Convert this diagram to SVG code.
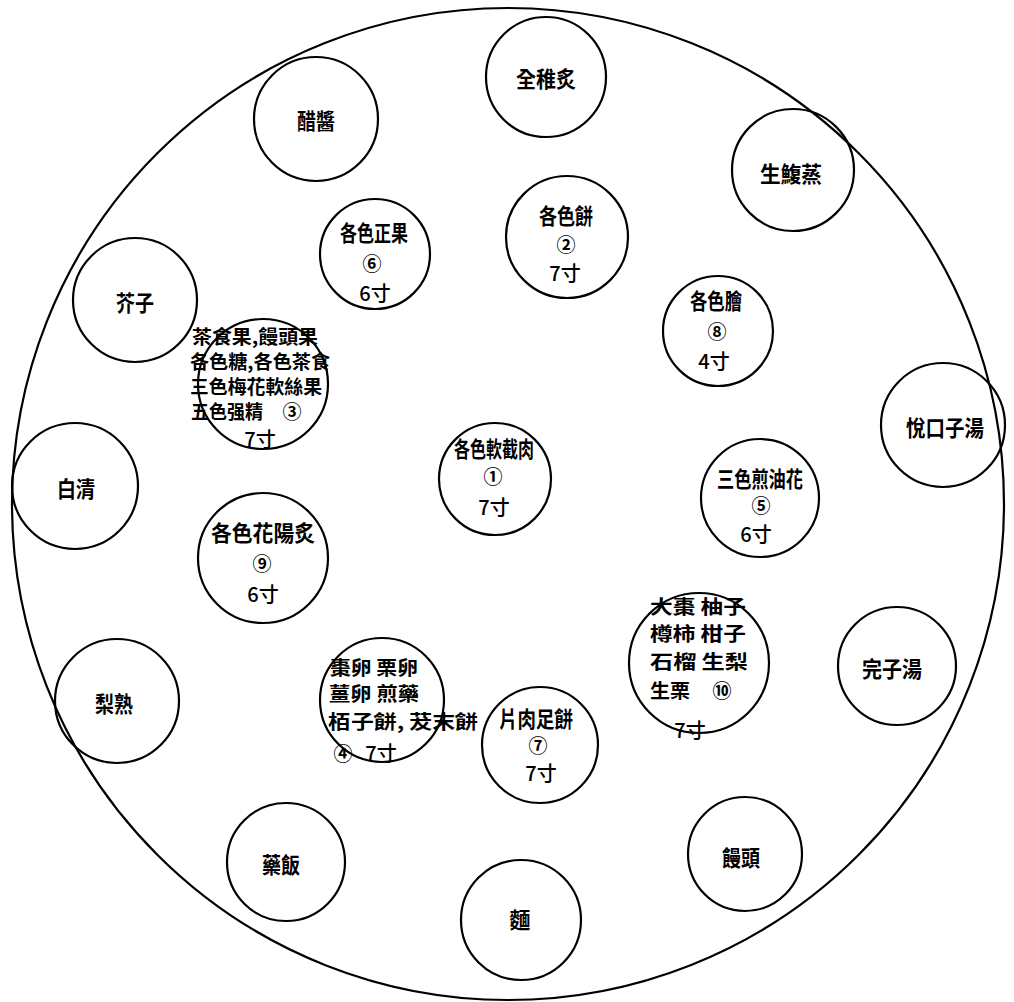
<svg xmlns="http://www.w3.org/2000/svg" width="1014" height="1002" viewBox="0 0 1014 1002">
<style>
.c{fill:none;stroke:#000;stroke-width:2.2}
text{font-family:"Noto Sans CJK TC","Noto Sans CJK KR","Noto Sans CJK SC",sans-serif;fill:#000;text-anchor:middle;dominant-baseline:central}
.n{font-size:22px;font-weight:700}
.t{font-size:19px;font-weight:700}
.s{font-size:20px;font-weight:500}
.m{font-size:19px;font-weight:700}
.l{text-anchor:start}
</style>
<rect width="1014" height="1002" fill="#fff"/>
<g id="table"><circle class="c" cx="508" cy="504" r="496"/></g>
<g id="connectors"></g>
<g id="n-quanzhizhi"><circle class="c" cx="546" cy="77" r="60"/><text class="n" x="546" y="77" textLength="60" lengthAdjust="spacingAndGlyphs">全稚炙</text></g>
<g id="n-cujiang"><circle class="c" cx="316" cy="119" r="62"/><text class="n" x="316" y="119" textLength="38" lengthAdjust="spacingAndGlyphs">醋醬</text></g>
<g id="n-shengfuzheng"><circle class="c" cx="793" cy="170" r="61"/><text class="n" x="791" y="172" textLength="62" lengthAdjust="spacingAndGlyphs">生鰒蒸</text></g>
<g id="n-jiezi"><circle class="c" cx="135" cy="300" r="62"/><text class="n" x="135" y="301" textLength="38" lengthAdjust="spacingAndGlyphs">芥子</text></g>
<g id="n-yuekouzitang"><circle class="c" cx="943" cy="425" r="62"/><text class="n" x="945" y="426" textLength="78" lengthAdjust="spacingAndGlyphs">悅口子湯</text></g>
<g id="n-baiqing"><circle class="c" cx="75" cy="486" r="63"/><text class="n" x="76" y="487" textLength="38" lengthAdjust="spacingAndGlyphs">白清</text></g>
<g id="n-wanzitang"><circle class="c" cx="897" cy="666" r="59"/><text class="n" x="892" y="667" textLength="60" lengthAdjust="spacingAndGlyphs">完子湯</text></g>
<g id="n-lishu"><circle class="c" cx="117" cy="701" r="62"/><text class="n" x="114" y="702" textLength="38" lengthAdjust="spacingAndGlyphs">梨熟</text></g>
<g id="n-yaofan"><circle class="c" cx="286" cy="862" r="59"/><text class="n" x="281" y="863" textLength="38" lengthAdjust="spacingAndGlyphs">藥飯</text></g>
<g id="n-mantou"><circle class="c" cx="745" cy="854" r="57"/><text class="n" x="741" y="856" textLength="38" lengthAdjust="spacingAndGlyphs">饅頭</text></g>
<g id="n-mian"><circle class="c" cx="521" cy="920" r="60"/><text class="n" x="520" y="918" textLength="21" lengthAdjust="spacingAndGlyphs">麵</text></g>
<g id="n1"><circle class="c" cx="495" cy="479" r="56"/><text class="n" x="494" y="447" textLength="80" lengthAdjust="spacingAndGlyphs">各色軟截肉</text><text class="m" x="493" y="475">①</text><text class="s" x="494" y="506">7寸</text></g>
<g id="n2"><circle class="c" cx="567" cy="237" r="61"/><text class="n" x="566" y="214" textLength="54" lengthAdjust="spacingAndGlyphs">各色餅</text><text class="m" x="566" y="243">②</text><text class="s" x="565" y="272">7寸</text></g>
<g id="n3"><circle class="c" cx="263" cy="384" r="65"/><text class="t l" x="192" y="335" textLength="126" lengthAdjust="spacingAndGlyphs">茶食果,饅頭果</text><text class="t l" x="190" y="360" textLength="140" lengthAdjust="spacingAndGlyphs">各色糖,各色茶食</text><text class="t l" x="190" y="385" textLength="132" lengthAdjust="spacingAndGlyphs">三色梅花軟絲果</text><text class="t l" x="191" y="410" textLength="72" lengthAdjust="spacingAndGlyphs">五色强精</text><text class="m" x="292" y="410">③</text><text class="s" x="260" y="438">7寸</text></g>
<g id="n4"><circle class="c" cx="382" cy="700" r="62"/><text class="t l" x="330" y="666" textLength="88" lengthAdjust="spacingAndGlyphs">棗卵 栗卵</text><text class="t l" x="329" y="692" textLength="90" lengthAdjust="spacingAndGlyphs">薑卵 煎藥</text><text class="t l" x="328" y="720" textLength="150" lengthAdjust="spacingAndGlyphs">栢子餅, 茇末餅</text><text class="m" x="343" y="752">④</text><text class="s" x="381" y="752">7寸</text></g>
<g id="n5"><circle class="c" cx="760" cy="498" r="59"/><text class="n" x="760" y="477" textLength="86" lengthAdjust="spacingAndGlyphs">三色煎油花</text><text class="m" x="761" y="504">⑤</text><text class="s" x="756" y="533">6寸</text></g>
<g id="n6"><circle class="c" cx="375" cy="254" r="55"/><text class="n" x="374" y="231" textLength="68" lengthAdjust="spacingAndGlyphs">各色正果</text><text class="m" x="372" y="262">⑥</text><text class="s" x="375" y="292">6寸</text></g>
<g id="n7"><circle class="c" cx="540" cy="745" r="58"/><text class="n" x="536" y="717" textLength="74" lengthAdjust="spacingAndGlyphs">片肉足餅</text><text class="m" x="538" y="744">⑦</text><text class="s" x="541" y="772">7寸</text></g>
<g id="n8"><circle class="c" cx="718" cy="331" r="55"/><text class="n" x="716" y="299" textLength="52" lengthAdjust="spacingAndGlyphs">各色膾</text><text class="m" x="717" y="330">⑧</text><text class="s" x="714" y="360">4寸</text></g>
<g id="n9"><circle class="c" cx="263" cy="558" r="65"/><text class="n" x="263" y="531" textLength="104" lengthAdjust="spacingAndGlyphs">各色花陽炙</text><text class="m" x="262" y="562">⑨</text><text class="s" x="263" y="593">6寸</text></g>
<g id="n10"><circle class="c" cx="699" cy="663" r="70"/><text class="t l" x="650" y="605" textLength="96" lengthAdjust="spacingAndGlyphs">大棗 柚子</text><text class="t l" x="650" y="632" textLength="96" lengthAdjust="spacingAndGlyphs">樽柿 柑子</text><text class="t l" x="650" y="660" textLength="98" lengthAdjust="spacingAndGlyphs">石榴 生梨</text><text class="t l" x="650" y="689" textLength="40" lengthAdjust="spacingAndGlyphs">生栗</text><text class="m" x="722" y="689">⑩</text><text class="s" x="690" y="729">7寸</text></g>
</svg>
